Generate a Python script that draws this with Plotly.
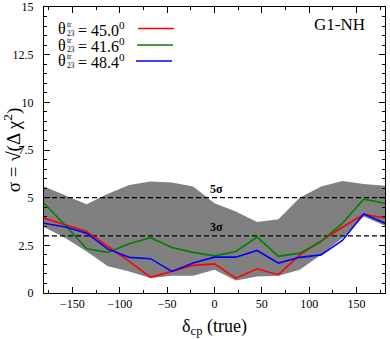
import plotly.graph_objects as go

# delta_cp (true) grid, degrees
delta_cp = [-180, -157.5, -135, -112.5, -90, -67.5, -45, -22.5, 0,
            22.5, 45, 67.5, 90, 112.5, 135, 157.5, 180]

# sigma = sqrt(delta chi^2) for the three true theta23 values
sig_450 = [3.93, 3.6, 3.23, 2.44, 1.66, 0.82, 1.13, 1.45, 1.53,
           0.78, 1.27, 0.96, 2.0, 2.74, 3.45, 4.13, 3.93]
sig_416 = [4.71, 3.55, 2.32, 2.13, 2.58, 2.90, 2.39, 2.13, 1.95,
           2.18, 2.93, 1.92, 2.09, 2.70, 3.66, 4.92, 4.71]
sig_484 = [3.66, 3.46, 3.14, 2.30, 1.87, 1.80, 1.13, 1.57, 1.88,
           1.88, 2.23, 1.57, 1.87, 2.0, 2.76, 4.14, 3.66]

# grey band (variation over theta23)
band_hi = [5.58, 5.11, 4.66, 5.2, 5.67, 5.85, 5.79, 5.58, 4.71,
           4.28, 3.72, 3.87, 5.0, 5.58, 5.88, 5.72, 5.62]
band_lo = [3.46, 2.88, 2.18, 1.40, 1.13, 0.79, 0.91, 0.91, 1.22,
           0.65, 0.87, 0.91, 1.22, 2.0, 2.88, 4.01, 3.53]

sigma_levels = [5, 3]
sigma_names = ["5σ", "3σ"]

legend_lbl = ["45.0", "41.6", "48.4"]
colors = ["#ff0000", "#008000", "#0000ff"]

FONT = "Liberation Serif, Times New Roman, serif"

fig = go.Figure()

fig.add_trace(go.Scatter(
    x=delta_cp + delta_cp[::-1], y=band_hi + band_lo[::-1],
    fill="toself", fillcolor="#808080", line=dict(width=0),
    mode="lines", hoverinfo="skip", showlegend=False))

for lev in sigma_levels:
    fig.add_trace(go.Scatter(
        x=[delta_cp[0], delta_cp[-1]], y=[lev, lev], mode="lines",
        line=dict(color="black", width=1.2, dash="5px,3px"), showlegend=False))

for ys, c in zip([sig_450, sig_416, sig_484], colors):
    fig.add_trace(go.Scatter(x=delta_cp, y=ys, mode="lines",
                             line=dict(color=c, width=1.6), showlegend=False))

for lev, name in zip(sigma_levels, sigma_names):
    fig.add_annotation(x=2, y=lev, text="<b>" + name + "</b>", showarrow=False,
                       yanchor="bottom", yshift=0,
                       font=dict(family=FONT, size=12, color="black"))

# legend built by hand: text on the left, line sample on the right
row_y = [28.5, 45, 61]
for i, (lbl, c) in enumerate(zip(legend_lbl, colors)):
    yy = 1 - (row_y[i] - 7) / 286
    fig.add_annotation(xref="paper", yref="paper", x=(56 - 44) / 341, y=yy,
                       text="θ", showarrow=False, xanchor="left", yanchor="middle",
                       font=dict(family=FONT, size=16, color="black"))
    fig.add_annotation(xref="paper", yref="paper", x=(65 - 44) / 341, y=yy,
                       text="tr", showarrow=False, xanchor="left", yanchor="middle",
                       yshift=4.5, font=dict(family=FONT, size=7.5, color="black"))
    fig.add_annotation(xref="paper", yref="paper", x=(64.5 - 44) / 341, y=yy,
                       text="23", showarrow=False, xanchor="left", yanchor="middle",
                       yshift=-4.5, font=dict(family=FONT, size=7.5, color="black"))
    fig.add_annotation(xref="paper", yref="paper", x=(76 - 44) / 341, y=yy,
                       text="= " + lbl + "<sup>0</sup>", showarrow=False,
                       xanchor="left", yanchor="middle",
                       font=dict(family=FONT, size=16, color="black"))
    fig.add_shape(type="line", xref="paper", yref="paper",
                  x0=(138 - i - 44) / 341, x1=(174 - i - 44) / 341, y0=yy, y1=yy,
                  line=dict(color=c, width=1.6))

fig.add_annotation(xref="paper", yref="paper", x=(367 - 44) / 341, y=1 - 18 / 286,
                   text="G1-NH", showarrow=False, xanchor="right", yanchor="middle",
                   font=dict(family=FONT, size=17, color="black"))

axis_common = dict(showline=True, linecolor="black", linewidth=1, mirror="allticks",
                   ticks="inside", tickcolor="black", ticklen=6, tickwidth=1,
                   showgrid=False, zeroline=False, automargin=False,
                   tickfont=dict(family=FONT, size=12, color="black"))

fig.update_xaxes(range=[-180, 180], tick0=-150, dtick=50,
                 minor=dict(ticks="inside", ticklen=3, dtick=25, tick0=-175,
                            tickcolor="black", showgrid=False),
                 title=dict(text="δ<sub>cp</sub> (true)", standoff=8,
                            font=dict(family=FONT, size=18, color="black")),
                 **axis_common)
fig.update_yaxes(range=[0, 15], tick0=0, dtick=2.5, ticklabelstandoff=7,
                 minor=dict(ticks="inside", ticklen=3, dtick=0.5,
                            tickcolor="black", showgrid=False),
                 title=dict(text="σ = √(Δ χ<sup>2</sup>)", standoff=5,
                            font=dict(family=FONT, size=19, color="black")),
                 **axis_common)

fig.update_layout(width=390, height=339, plot_bgcolor="white", paper_bgcolor="white",
                  font=dict(family=FONT),
                  margin=dict(l=44, r=5, t=7, b=46, autoexpand=False), showlegend=False)

fig.write_html("out.html", config={"displayModeBar": False},
               post_script="document.body.style.margin='0';document.body.style.overflow='hidden';")
